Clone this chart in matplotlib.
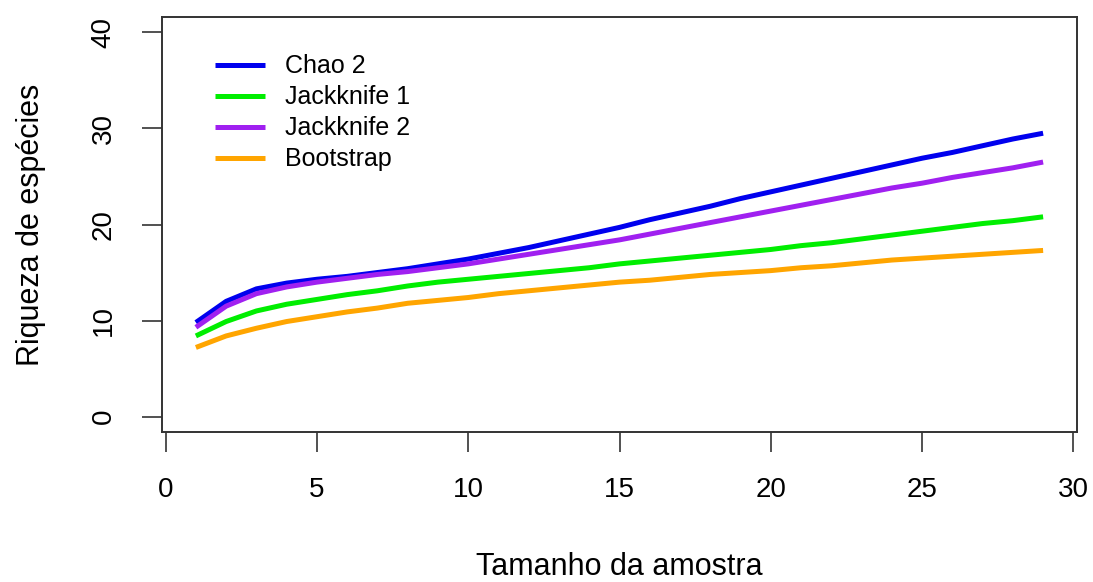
import matplotlib
matplotlib.use("Agg")
import matplotlib.pyplot as plt

plt.rcParams['font.family'] = ['Liberation Sans', 'DejaVu Sans']

# Tamanho da amostra
amostra = list(range(1, 30))

chao2 = [9.8, 12.0, 13.3, 13.9, 14.3, 14.6, 15.0, 15.4, 15.9, 16.4,
         17.0, 17.6, 18.3, 19.0, 19.7, 20.5, 21.2, 21.9, 22.7, 23.4,
         24.1, 24.8, 25.5, 26.2, 26.9, 27.5, 28.2, 28.9, 29.5]
jack1 = [8.4, 9.9, 11.0, 11.7, 12.2, 12.7, 13.1, 13.6, 14.0, 14.3,
         14.6, 14.9, 15.2, 15.5, 15.9, 16.2, 16.5, 16.8, 17.1, 17.4,
         17.8, 18.1, 18.5, 18.9, 19.3, 19.7, 20.1, 20.4, 20.8]
jack2 = [9.3, 11.5, 12.8, 13.5, 14.0, 14.4, 14.8, 15.1, 15.5, 15.9,
         16.4, 16.9, 17.4, 17.9, 18.4, 19.0, 19.6, 20.2, 20.8, 21.4,
         22.0, 22.6, 23.2, 23.8, 24.3, 24.9, 25.4, 25.9, 26.5]
boot = [7.2, 8.4, 9.2, 9.9, 10.4, 10.9, 11.3, 11.8, 12.1, 12.4,
        12.8, 13.1, 13.4, 13.7, 14.0, 14.2, 14.5, 14.8, 15.0, 15.2,
        15.5, 15.7, 16.0, 16.3, 16.5, 16.7, 16.9, 17.1, 17.3]

nomes = ["Chao 2", "Jackknife 1", "Jackknife 2", "Bootstrap"]
cores = ["#0000EE", "#00EE00", "#A020F0", "#FFA500"]
series = [chao2, jack1, jack2, boot]

fig = plt.figure(figsize=(10.93, 5.82), dpi=100)
ax = fig.add_axes([162 / 1093, 1 - 432 / 582, 915 / 1093, 415 / 582])

for s, c, n in zip(series, cores, nomes):
    ax.plot(amostra, s, color=c, lw=3.6, label=n, solid_capstyle="butt")

ax.set_xlim(-0.12, 30.12)
ax.set_ylim(-1.6, 41.6)
ax.set_xticks([0, 5, 10, 15, 20, 25, 30])
ax.set_yticks([0, 10, 20, 30, 40])
for sp in ax.spines.values():
    sp.set_linewidth(1.4)
    sp.set_color("#333333")
ax.tick_params(direction="out", length=14.5, width=1.2, color="#333333",
               labelsize=20, pad=18)
for lab in ax.get_yticklabels():
    lab.set_rotation(90)
    lab.set_va("center")

ax.set_xlabel("Tamanho da amostra", fontsize=22, labelpad=35)
ax.set_ylabel("Riqueza de espécies", fontsize=22, labelpad=32)

ax.legend(loc="upper left", bbox_to_anchor=(0.058, 0.91), frameon=False,
          fontsize=18, handlelength=2.0, handletextpad=0.8,
          labelspacing=0.28, borderpad=0, borderaxespad=0)

fig.savefig("out.png", dpi=100)
